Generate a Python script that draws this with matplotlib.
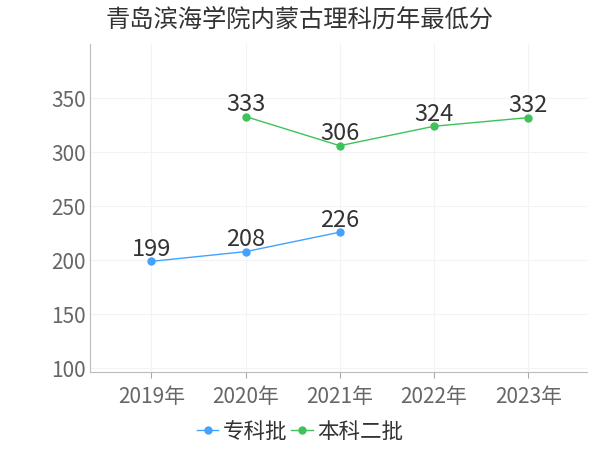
import matplotlib
matplotlib.use("Agg")
import matplotlib.pyplot as plt
import numpy as np

plt.rcParams['font.family'] = ['Noto Sans CJK SC', 'DejaVu Sans']

title = "青岛滨海学院内蒙古理科历年最低分"
years = ["2019年", "2020年", "2021年", "2022年", "2023年"]
zhuanke = [199, 208, 226, None, None]
benke2 = [None, 333, 306, 324, 332]
series = [("专科批", zhuanke, "#41a2ff"), ("本科二批", benke2, "#3ec25a")]

fig = plt.figure(figsize=(6, 4.5), dpi=100)
ax = fig.add_axes([0.15, 0.173, 0.828, 0.729])

x = np.arange(len(years))
for name, vals, color in series:
    xs = [i for i, v in zip(x, vals) if v is not None]
    ys = [v for v in vals if v is not None]
    ax.plot(xs, ys, color=color, lw=1.0, marker="o", ms=5, label=name, zorder=3)
    for xi, yi in zip(xs, ys):
        ax.annotate(str(yi), (xi, yi), xytext=(0, 4), textcoords="offset points",
                    ha="center", va="baseline", fontsize=17, color="#333333")

ax.set_xlim(-0.65, 4.62)
ax.set_ylim(96.5, 400)
ax.set_yticks([100, 150, 200, 250, 300, 350])
ax.set_xticks(x)
ax.set_xticklabels(years)
ax.tick_params(axis="both", labelsize=15, colors="#666666", length=0, pad=3)
ax.tick_params(axis="x", length=4, color="#aaaaaa", pad=6)
ax.grid(True, color="#f3f3f3", lw=0.8)
ax.set_axisbelow(True)
for s in ["top", "right"]:
    ax.spines[s].set_visible(False)
for s in ["left", "bottom"]:
    ax.spines[s].set_color("#bbbbbb")

fig.text(0.5, 0.957, title, ha="center", va="center", fontsize=17.5, color="#333333")
fig.legend(loc="center", bbox_to_anchor=(0.5, 0.04), ncol=2, frameon=False,
           fontsize=15.5, handlelength=1.0, handletextpad=0.2, columnspacing=0.2,
           labelcolor="#333333")

fig.savefig("out.png", dpi=100)
